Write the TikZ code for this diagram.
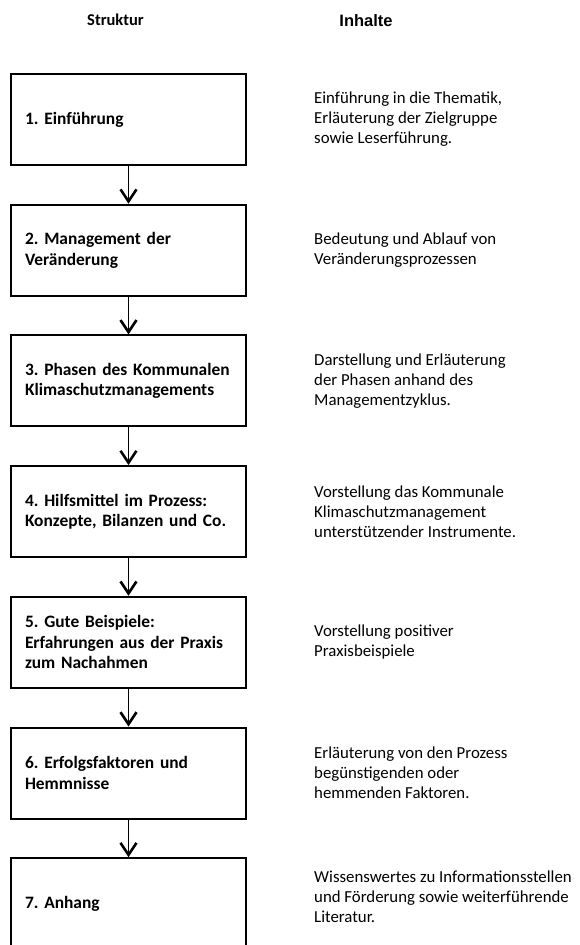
\documentclass[tikz,border=0pt]{standalone}
\usepackage{fontspec}
\setmainfont{Carlito}
\newfontfamily\arialfont{Liberation Sans}
\usetikzlibrary{positioning,arrows.meta}

\begin{document}
\begin{tikzpicture}[x=1pt, y=1pt,
	stufe/.style={draw, line width=2pt, rectangle, minimum height=91pt, minimum width=235pt, text width=207pt, inner xsep=14pt, align=left, font=\fontsize{17.4}{20.5}\selectfont\bfseries\frenchspacing},
	inhalt/.style={inner sep=0pt, align=left, font=\fontsize{16.8}{20}\selectfont\frenchspacing},
	pfeil/.style={line width=1.3pt, -{Straight Barb[length=12pt, width=16pt, line width=2.6pt]}},
	node distance=37.7pt]
	\useasboundingbox (0,0) rectangle (580,-945);

	\node[font=\fontsize{16.5}{18}\selectfont\bfseries] (hs) at (115.5,-20) {Struktur};
	\node[font=\arialfont\fontsize{16.5}{18}\selectfont\bfseries] (hi) at (366,-21) {Inhalte};

	\node[stufe] (b1) at (128.5,-119.5) {1. Einführung};
	\node[stufe, below=of b1] (b2) {2. Management der\\Veränderung};
	\node[stufe, below=of b2] (b3) {3. Phasen des Kommunalen\\Klimaschutzmanagements};
	\node[stufe, below=of b3] (b4) {4. Hilfsmittel im Prozess:\\Konzepte, Bilanzen und Co.};
	\node[stufe, below=of b4] (b5) {5. Gute Beispiele:\\Erfahrungen aus der Praxis\\zum Nachahmen};
	\node[stufe, below=of b5] (b6) {6. Erfolgsfaktoren und\\Hemmnisse};
	\node[stufe, below=of b6] (b7) {7. Anhang};

	\node[inhalt, right=67pt of b1] (t1) {Einführung in die Thematik,\\Erläuterung der Zielgruppe\\sowie Leserführung.};
	\node[inhalt, right=67pt of b2] (t2) {Bedeutung und Ablauf von\\Veränderungsprozessen};
	\node[inhalt, right=67pt of b3] (t3) {Darstellung und Erläuterung\\der Phasen anhand des\\Managementzyklus.};
	\node[inhalt, right=67pt of b4] (t4) {Vorstellung das Kommunale\\Klimaschutzmanagement\\unterstützender Instrumente.};
	\node[inhalt, right=67pt of b5] (t5) {Vorstellung positiver\\Praxisbeispiele};
	\node[inhalt, right=67pt of b6] (t6) {Erläuterung von den Prozess\\begünstigenden oder\\hemmenden Faktoren.};
	\node[inhalt, right=67pt of b7, yshift=7pt] (t7) {Wissenswertes zu Informationsstellen\\und Förderung sowie weiterführende\\Literatur.};

	\foreach \a/\b in {1/2,2/3,3/4,4/5,5/6,6/7}
		\draw[pfeil] (b\a) -- (b\b);

\end{tikzpicture}
\end{document}
